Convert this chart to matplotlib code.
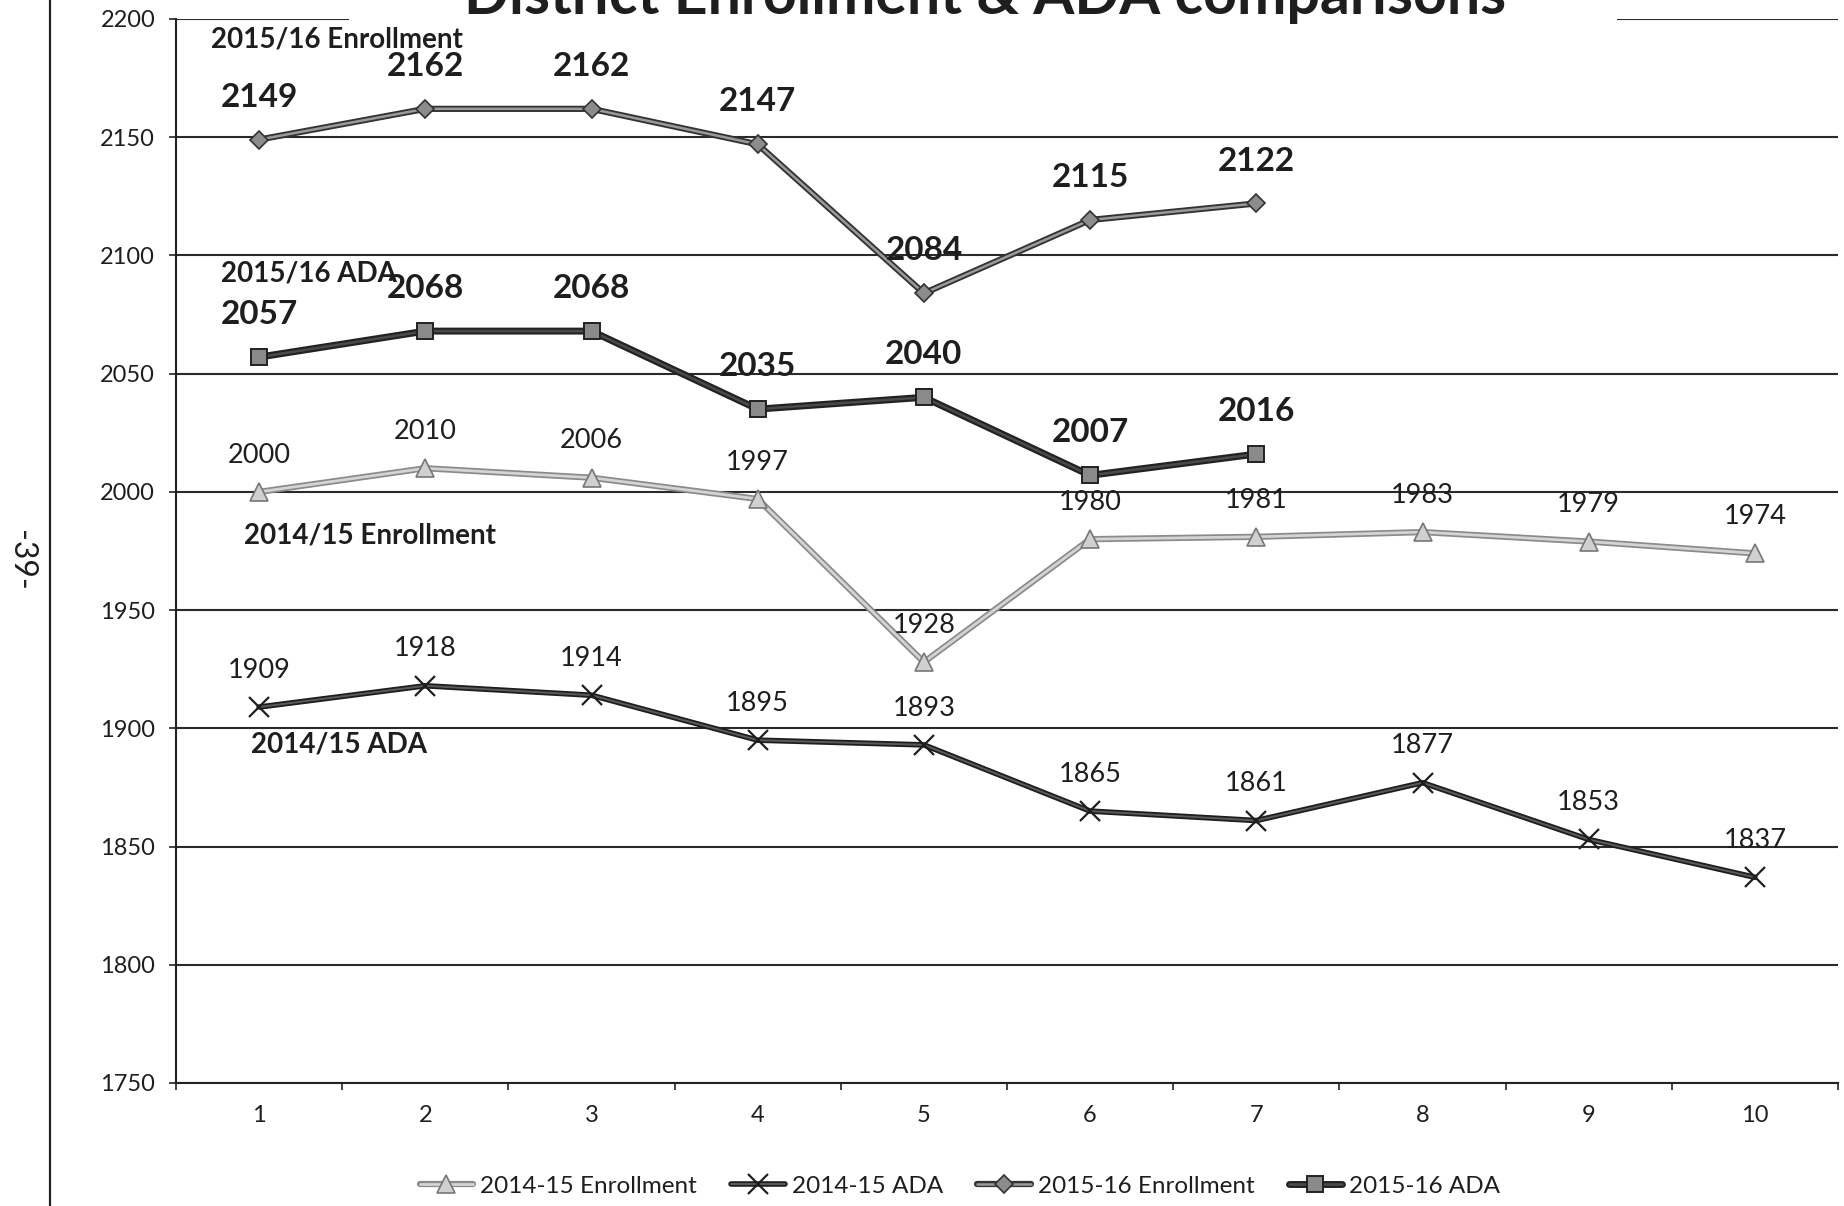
import matplotlib
matplotlib.use("Agg")
import matplotlib.pyplot as plt
from matplotlib.patches import Rectangle
from matplotlib.lines import Line2D

# ---- data -------------------------------------------------------------
months = [1, 2, 3, 4, 5, 6, 7, 8, 9, 10]
enroll_1415 = [2000, 2010, 2006, 1997, 1928, 1980, 1981, 1983, 1979, 1974]
ada_1415 = [1909, 1918, 1914, 1895, 1893, 1865, 1861, 1877, 1853, 1837]
enroll_1516 = [2149, 2162, 2162, 2147, 2084, 2115, 2122]
ada_1516 = [2057, 2068, 2068, 2035, 2040, 2007, 2016]
legend_labels = ["2014-15 Enrollment", "2014-15 ADA", "2015-16 Enrollment", "2015-16 ADA"]
y_ticks = [1750, 1800, 1850, 1900, 1950, 2000, 2050, 2100, 2150, 2200]
title = "District Enrollment & ADA comparisons"

FONT = "Lato"
plt.rcParams["font.family"] = [FONT, "DejaVu Sans"]
TXT = "#1e1e1e"

W, H = 1844, 1206
fig = plt.figure(figsize=(W / 100, H / 100), dpi=100)
fig.patch.set_facecolor("white")

ax_l, ax_r, ax_t, ax_b = 176, 1838, 19, 1083
ax = fig.add_axes([ax_l / W, 1 - ax_b / H, (ax_r - ax_l) / W, (ax_b - ax_t) / H])
ax.set_xlim(0.5, 10.5)
ax.set_ylim(1750, 2200)

# spines and grid
for s in ("top", "right"):
    ax.spines[s].set_visible(False)
for s in ("left", "bottom"):
    ax.spines[s].set_color("#222222")
    ax.spines[s].set_linewidth(1.5)
ax.set_axisbelow(True)
ax.yaxis.grid(True, color="#2a2a2a", linewidth=1.5)
ax.set_yticks(y_ticks)
ax.tick_params(axis="y", direction="out", length=5, width=1.2, color="#222222",
               pad=10, labelsize=17, labelcolor=TXT)
ax.set_xticks(months)
ax.set_xticks([m + 0.5 for m in range(0, 11)], minor=True)
ax.tick_params(axis="x", which="major", length=0, pad=16, labelsize=17, labelcolor=TXT)
ax.tick_params(axis="x", which="minor", direction="out", length=5, width=1.2, color="#222222")

# white block behind the title, hiding the top gridline there
ax.add_patch(Rectangle((349 / W, 1 - 25 / H), (1617 - 349) / W, 25 / H,
                       transform=fig.transFigure, facecolor="white",
                       edgecolor="none", zorder=1, clip_on=False))


def double_line(x, y, outer, inner, lw_out, lw_in, marker, ms, mfc, mec, mew):
    o, = ax.plot(x, y, color=outer, lw=lw_out, solid_joinstyle="round",
                 solid_capstyle="round", zorder=3)
    i, = ax.plot(x, y, color=inner, lw=lw_in, solid_joinstyle="round",
                 solid_capstyle="round", zorder=3.1)
    m, = ax.plot(x, y, ls="none", marker=marker, ms=ms, mfc=mfc, mec=mec,
                 mew=mew, zorder=3.2)
    return (o, i, m)


h1 = double_line(months[:len(enroll_1415)], enroll_1415, "#8a8a8a", "#d4d4d4",
                 4.5, 2.0, "^", 13, "#d0d0d0", "#777777", 1.2)
h2 = double_line(months[:len(ada_1415)], ada_1415, "#1e1e1e", "#5a5a5a",
                 4.0, 1.4, "x", 14, "none", "#1e1e1e", 1.6)
h3 = double_line(months[:len(enroll_1516)], enroll_1516, "#333333", "#9a9a9a",
                 4.5, 1.8, "D", 9.5, "#8c8c8c", "#333333", 1.2)
h4 = double_line(months[:len(ada_1516)], ada_1516, "#222222", "#4a4a4a",
                 5.0, 1.8, "s", 12, "#8a8a8a", "#222222", 1.4)

# point labels
for xs, ys in ((months, enroll_1415), (months, ada_1415)):
    for x, y in zip(xs, ys):
        ax.annotate(f"{y}", (x, y), xytext=(0, 26.5), textcoords="offset points",
                    ha="center", va="center", fontsize=19.5, color=TXT, zorder=4)
for xs, ys in ((months, enroll_1516), (months, ada_1516)):
    for x, y in zip(xs, ys):
        ax.annotate(f"{y}", (x, y), xytext=(0, 30.5), textcoords="offset points",
                    ha="center", va="center", fontsize=24, fontweight="bold",
                    color=TXT, zorder=4)

# series name tags
series_tags = [("2015/16 Enrollment", 0.712, 2191.5),
               ("2015/16 ADA", 0.769, 2092.5),
               ("2014/15 Enrollment", 0.91, 1981.6),
               ("2014/15 ADA", 0.953, 1893.0)]
for txt, x, y in series_tags:
    ax.text(x, y, txt, ha="left", va="center", fontsize=20, fontweight="bold",
            color=TXT, zorder=4)

# title (runs off the top edge of the page)
fig.text(985 / W, 1 - 14 / H, title, ha="center", va="baseline", fontsize=42.5,
         fontweight="bold", color=TXT)

# legend
fig.legend([h1, h2, h3, h4], legend_labels, loc="center",
           bbox_to_anchor=(960 / W, 1 - 1186 / H), ncol=4, frameon=False,
           fontsize=17.5, handlelength=2.2, handletextpad=0.3, columnspacing=1.4,
           labelcolor=TXT)

# page border and page number
fig.add_artist(Line2D([50 / W, 50 / W], [0, 1], transform=fig.transFigure,
                      color="#222222", lw=1.6))
fig.text(21 / W, 1 - 560 / H, "-39-", rotation=270, ha="center", va="center",
         fontsize=23, color=TXT)

fig.savefig("out.png", dpi=100, facecolor="white")
